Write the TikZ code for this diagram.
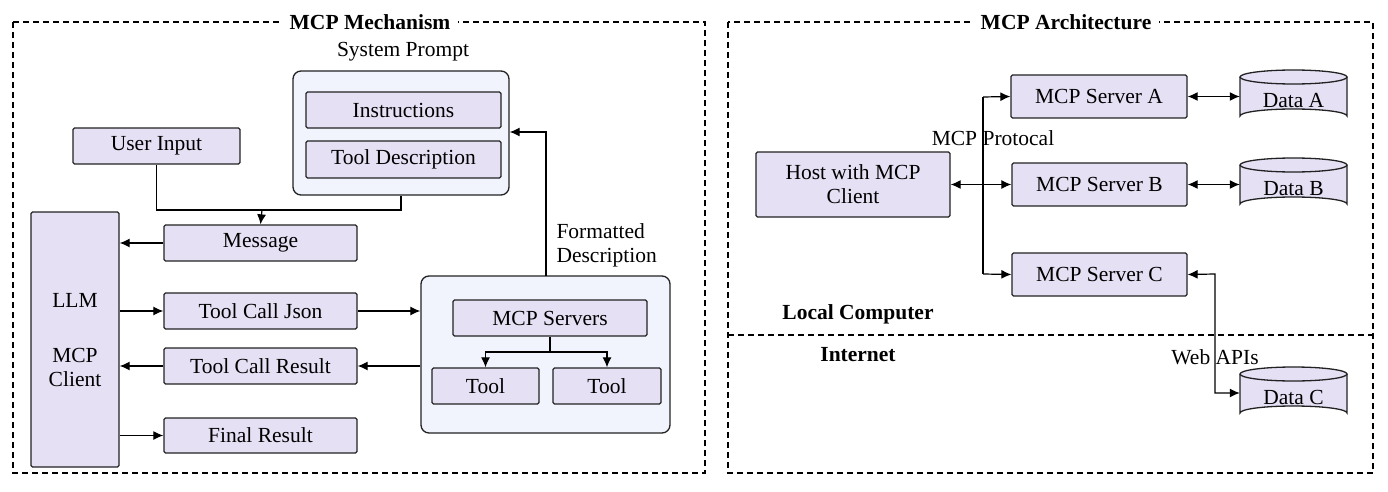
\documentclass[tikz,border=0pt]{standalone}
\usepackage{fontspec}
\setmainfont{Liberation Serif}
\newfontfamily\tnr{Liberation Serif}
\usetikzlibrary{arrows.meta,positioning}
\definecolor{lav}{HTML}{E6E0F4}
\definecolor{pale}{HTML}{F1F4FD}
\definecolor{edge}{HTML}{222222}
\tikzset{
  x=1pt,y=-1pt,
  every node/.style={font=\tnr\fontsize{21.5}{24}\selectfont},
  box/.style={draw=edge,line width=1.3pt,fill=lav,rounded corners=1.5pt,inner sep=0pt},
  outer/.style={draw=edge,line width=1.3pt,fill=pale,rounded corners=8pt,inner sep=0pt},
  frame/.style={draw=black,line width=1.3pt,dash pattern=on 6pt off 4pt},
  conn/.style={draw=black,line width=1.2pt},
  arr/.style={conn,-{Latex[length=10pt,width=9pt]}},
  darr/.style={conn,{Latex[length=10pt,width=9pt]}-{Latex[length=10pt,width=9pt]}},
  ttl/.style={fill=white,font=\tnr\fontsize{21.5}{24}\selectfont\bfseries,inner xsep=8pt},
  lbl/.style={font=\tnr\fontsize{21.5}{24}\selectfont\bfseries},
}
\newcommand{\mkbox}[6]{% name, x1,y1,x2,y2, text
  \node[box,minimum width=#4-#2,minimum height=#5-#3,align=center] (#1) at ({(#2+#4)/2},{(#3+#5)/2}) {#6};}
\newcommand{\mkcyl}[6]{% name, x1,y1,x2,y2, text
  \fill[lav] (#2,#3+7) -- (#2,#5-7) arc[start angle=180,end angle=360,x radius={(#4-#2)/2},y radius=7] -- (#4,#3+7) arc[start angle=0,end angle=-180,x radius={(#4-#2)/2},y radius=7] -- cycle;
  \fill[lav] ({(#2+#4)/2},#3+7) ellipse[x radius={(#4-#2)/2},y radius=7];
  \draw[edge,line width=1.3pt] (#2,#3+7) -- (#2,#5-7) arc[start angle=180,end angle=360,x radius={(#4-#2)/2},y radius=7] -- (#4,#3+7);
  \draw[edge,line width=1.3pt] ({(#2+#4)/2},#3+7) ellipse[x radius={(#4-#2)/2},y radius=7];
  \node[inner sep=0pt,minimum width=#4-#2,minimum height=#5-#3] (#1) at ({(#2+#4)/2},{(#3+#5)/2+4}) {#6};}
\begin{document}
\begin{tikzpicture}
\useasboundingbox (0,0) rectangle (1388,492);
% frames
\draw[frame] (13,22) rectangle (705,473);
\draw[frame] (728,22) rectangle (1373,473);
\draw[frame] (728,335) -- (1373,335);
\node[ttl] (t1) at (370,22) {MCP Mechanism};
\node[ttl] (t2) at (1066,22) {MCP Architecture};

% ---- left
\node (sp) at (403,52) {System Prompt};
\node[outer,minimum width=216,minimum height=124] (spbox) at (401,133) {};
\mkbox{instr}{306}{92}{501}{128}{Instructions}
\mkbox{tdesc}{306}{141}{501}{178}{Tool Description}
\mkbox{user}{73}{128}{240}{164}{User Input}
\mkbox{msg}{164}{225}{357}{261}{Message}
\mkbox{llm}{31}{212}{119}{467}{}
\node (llmt) at (75,300) {LLM};
\node[align=center] (mcpc) at (75,367) {MCP\\Client};
\mkbox{tcj}{164}{293}{357}{329}{Tool Call Json}
\mkbox{tcr}{164}{348}{357}{384}{Tool Call Result}
\mkbox{fin}{164}{418}{357}{453}{Final Result}
\node[outer,minimum width=249,minimum height=157] (srvbox) at (545.5,354.5) {};
\mkbox{srv}{453}{300}{647}{336}{MCP Servers}
\mkbox{tool1}{432}{368}{539}{404}{Tool}
\mkbox{tool2}{553}{368}{661}{404}{Tool}

\coordinate (j1) at (262,210);
\draw[conn] (user.south) |- (j1) -| (spbox.south);
\draw[arr] (j1) -- (msg.north);
\draw[arr] (msg.west) -- (llm.east |- msg.west);
\draw[arr] (llm.east |- tcj.west) -- (tcj.west);
\draw[arr] (tcj.east) -- (srvbox.west |- tcj.east);
\draw[arr] (srvbox.west |- tcr.east) -- (tcr.east);
\draw[arr] (tcr.west) -- (llm.east |- tcr.west);
\draw[arr] (llm.east |- fin.west) -- (fin.west);
\coordinate (j2) at (550,352);
\draw[conn] (srv.south) -- (j2);
\draw[arr] (j2) -| (tool1.north);
\draw[arr] (j2) -| (tool2.north);
\coordinate (fd) at (546,132);
\draw[arr] (546,276) -- (fd) -- (spbox.east |- fd);
\node[align=left,anchor=west] (fdl) at (553,245) {Formatted\\Description};

% ---- right
\mkbox{sa}{1011}{75}{1187}{118}{MCP Server A}
\mkbox{sb}{1012}{163}{1187}{206}{MCP Server B}
\mkbox{sc}{1012}{253}{1187}{296}{MCP Server C}
\mkbox{host}{756}{152}{950}{217}{Host with MCP\\Client}
\mkcyl{da}{1240}{70}{1347}{123}{Data A}
\mkcyl{db}{1240}{158}{1347}{211}{Data B}
\mkcyl{dc}{1240}{367}{1347}{420}{Data C}
\coordinate (va) at (983,97);
\coordinate (vc) at (983,274);
\draw[conn] (va) -- (vc);
\draw[arr] (va) -- (sa.west);
\draw[arr] (vc) -- (sc.west);
\draw[darr] (host.east |- sb.west) -- (sb.west);
\node (proto) at (993,138) {MCP Protocal};
\draw[darr] (sa.east) -- (da.west |- sa.east);
\draw[darr] (sb.east) -- (db.west |- sb.east);
\coordinate (w1) at (1215,274);
\coordinate (w2) at (1215,393);
\draw[darr] (sc.east) -- (w1) -- (w2) -- (dc.west |- w2);
\node (web) at (1215,357) {Web APIs};
\node[lbl] (loc) at (858,314) {Local Computer};
\node[lbl] (inet) at (858,355) {Internet};
\end{tikzpicture}
\end{document}
